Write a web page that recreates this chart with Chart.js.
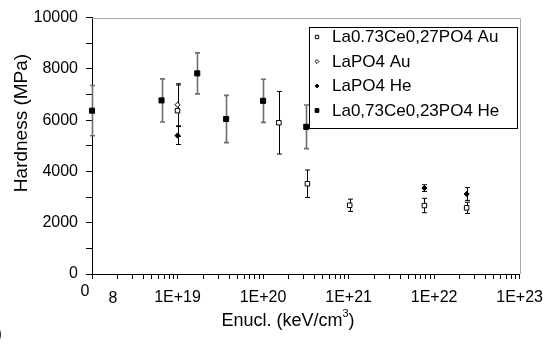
<!DOCTYPE html>
<html><head><meta charset="utf-8">
<script src="https://cdn.jsdelivr.net/npm/chart.js@4.4.1/dist/chart.umd.min.js"></script>
<style>html,body{margin:0;padding:0;background:#fff;} canvas{display:block;}</style>
</head><body>
<canvas id="c" width="552" height="345"></canvas>
<script>
// ---- data ----
const seriesLabels = ['La0.73Ce0,27PO4 Au', 'LaPO4 Au', 'LaPO4 He', 'La0,73Ce0,23PO4 He'];

const laCeAuX   = [1e19, 1.53e20, 3.3e20, 1.03e21, 7.7e21, 2.4e22];
const laCeAuY   = [6370, 5900, 3520, 2680, 2670, 2580];
const laCeAuErr = [1000, 1220, 535, 240, 280, 220];

const laAuX   = [1e19];
const laAuY   = [6600];
const laAuErr = [820];

const laHeX   = [1e19, 7.7e21, 2.4e22];
const laHeY   = [5400, 3350, 3120];
const laHeErr = [350, 130, 250];

const laCeHeX   = [1e18, 6.5e18, 1.7e19, 3.7e19, 1e20, 3.2e20];
const laCeHeY   = [6370, 6770, 7825, 6045, 6755, 5740];
const laCeHeErr = [980, 840, 800, 920, 840, 850];

const xDecades    = [18, 19, 20, 21, 22, 23];
const xTickLabels = ['', '1E+19', '1E+20', '1E+21', '1E+22', '1E+23'];
const xStrayLabels = ['0', '8'];
const yTicks      = [0, 2000, 4000, 6000, 8000, 10000];
const yTitle      = 'Hardness (MPa)';
const xTitleParts = ['Enucl. (keV/cm', '3', ')'];
const cornerText  = ')';

const FONT = "'Liberation Sans', Arial, sans-serif";

function pts(xs, ys) { return xs.map((x, i) => ({x: x, y: ys[i]})); }

const datasets = [
  {label: seriesLabels[0], data: pts(laCeAuX, laCeAuY), err: laCeAuErr, pointStyle: 'rect', pointRadius: 3.2,
   backgroundColor: '#fff', borderColor: '#000', borderWidth: 1, errColor: '#000', errWidth: 1, clip: false},
  {label: seriesLabels[1], data: pts(laAuX, laAuY), err: laAuErr, pointStyle: 'rectRot', pointRadius: 2.6,
   backgroundColor: '#fff', borderColor: '#000', borderWidth: 1, errColor: '#000', errWidth: 1, clip: false},
  {label: seriesLabels[2], data: pts(laHeX, laHeY), err: laHeErr, pointStyle: 'rectRot', pointRadius: 2.6,
   backgroundColor: '#000', borderColor: '#000', borderWidth: 1, errColor: '#000', errWidth: 1, clip: false},
  {label: seriesLabels[3], data: pts(laCeHeX, laCeHeY), err: laCeHeErr, pointStyle: 'rect', pointRadius: 3.6,
   backgroundColor: '#000', borderColor: '#000', borderWidth: 1, errColor: '#6e6e6e', errWidth: 1.6, clip: false}
];

const errorBars = {
  id: 'errorBars',
  beforeDatasetsDraw(chart) {
    const ctx = chart.ctx, xs = chart.scales.x, ys = chart.scales.y;
    chart.data.datasets.forEach(ds => {
      ctx.save();
      ctx.strokeStyle = ds.errColor; ctx.lineWidth = ds.errWidth;
      ds.data.forEach((p, i) => {
        const e = ds.err[i];
        const px = Math.round(xs.getPixelForValue(p.x)) + 0.5;
        const y1 = ys.getPixelForValue(p.y + e), y2 = ys.getPixelForValue(p.y - e);
        ctx.beginPath();
        ctx.moveTo(px, y1); ctx.lineTo(px, y2);
        ctx.moveTo(px - 2.5, y1); ctx.lineTo(px + 2.5, y1);
        ctx.moveTo(px - 2.5, y2); ctx.lineTo(px + 2.5, y2);
        ctx.stroke();
      });
      ctx.restore();
    });
  }
};

const decor = {
  id: 'decor',
  afterDraw(chart) {
    const ctx = chart.ctx, a = chart.chartArea, xs = chart.scales.x;
    ctx.save();
    // top & right frame
    ctx.strokeStyle = '#a8a8a8'; ctx.lineWidth = 1;
    ctx.beginPath();
    ctx.moveTo(a.left, Math.round(a.top) + 0.5); ctx.lineTo(Math.round(a.right) + 0.5, Math.round(a.top) + 0.5);
    ctx.lineTo(Math.round(a.right) + 0.5, a.bottom);
    ctx.stroke();
    ctx.fillStyle = '#000';
    // y title
    ctx.save();
    ctx.translate(22, 123);
    ctx.rotate(-Math.PI / 2);
    ctx.font = '19px ' + FONT; ctx.textAlign = 'center'; ctx.textBaseline = 'middle';
    ctx.fillText(yTitle, 0, 0);
    ctx.restore();
    // x title
    ctx.font = '18px ' + FONT; ctx.textBaseline = 'middle'; ctx.textAlign = 'left';
    const w0 = ctx.measureText(xTitleParts[0]).width;
    ctx.font = '11px ' + FONT; const w1 = ctx.measureText(xTitleParts[1]).width;
    ctx.font = '18px ' + FONT; const w2 = ctx.measureText(xTitleParts[2]).width;
    let tx = 288 - (w0 + w1 + w2) / 2;
    ctx.fillText(xTitleParts[0], tx, 321); tx += w0;
    ctx.font = '11px ' + FONT; ctx.fillText(xTitleParts[1], tx, 314); tx += w1;
    ctx.font = '18px ' + FONT; ctx.fillText(xTitleParts[2], tx, 321);
    // stray tick label remnants
    const x0 = xs.getPixelForValue(Math.pow(10, xDecades[0]));
    ctx.font = '16px ' + FONT; ctx.textAlign = 'center';
    ctx.fillText(xStrayLabels[0], x0 - 7, 292);
    ctx.fillText(xStrayLabels[1], x0 + 21, 299);
    // corner clipped glyph
    ctx.font = '18px ' + FONT; ctx.textAlign = 'right';
    ctx.fillText(cornerText, 2, 334);
    // legend
    const L = 309, T = 27, R = 517, B = 128;
    ctx.fillStyle = '#fff'; ctx.fillRect(L, T, R - L, B - T);
    ctx.strokeStyle = '#000'; ctx.lineWidth = 1;
    ctx.strokeRect(L + 0.5, T + 0.5, R - L, B - T);
    const rows = [37, 61.5, 86, 110.5];
    chart.data.datasets.forEach((ds, i) => {
      const y = rows[i];
      ctx.fillStyle = ds.backgroundColor; ctx.strokeStyle = '#000'; ctx.lineWidth = 1;
      ctx.beginPath();
      const r = ds.pointRadius * 0.75;
      if (ds.pointStyle === 'rect') {
        ctx.rect(317 - r * 0.7, y - r * 0.7, r * 1.4, r * 1.4);
      } else {
        ctx.moveTo(317, y - r); ctx.lineTo(317 + r, y); ctx.lineTo(317, y + r); ctx.lineTo(317 - r, y); ctx.closePath();
      }
      ctx.fill(); ctx.stroke();
      ctx.fillStyle = '#000';
      ctx.font = '17px ' + FONT; ctx.textAlign = 'left'; ctx.textBaseline = 'middle';
      ctx.fillText(ds.label, 332, y + 0.5);
    });
    ctx.restore();
  }
};

new Chart(document.getElementById('c'), {
  type: 'scatter',
  data: {datasets: datasets},
  options: {
    responsive: false, animation: false, devicePixelRatio: 1,
    layout: {padding: {left: 0, right: 31, top: 15, bottom: 0}},
    plugins: {legend: {display: false}, tooltip: {enabled: false}},
    scales: {
      x: {
        type: 'logarithmic', position: 'bottom', min: Math.pow(10, xDecades[0]), max: Math.pow(10, xDecades[xDecades.length - 1]),
        afterBuildTicks: s => {
          const t = [];
          xDecades.forEach((d, i) => {
            t.push({value: Math.pow(10, d)});
            if (i < xDecades.length - 1) for (let k = 2; k <= 9; k++) t.push({value: k * Math.pow(10, d)});
          });
          s.ticks = t;
        },
        ticks: {
          autoSkip: false, maxRotation: 0, minRotation: 0, color: '#000', padding: 9,
          font: {family: FONT, size: 16},
          callback: v => {
            const d = xDecades.findIndex(e => Math.abs(Math.log10(v) - e) < 1e-6);
            return d >= 0 ? xTickLabels[d] : '';
          }
        },
        grid: {display: true, drawOnChartArea: false, drawTicks: true, tickLength: 5, color: '#000'},
        border: {display: true, color: '#000', width: 1},
        afterFit: s => { s.height = 71; }
      },
      y: {
        type: 'linear', min: 0, max: 10000,
        ticks: {
          stepSize: 500, color: '#000', padding: 8, font: {family: FONT, size: 16},
          callback: v => yTicks.includes(v) ? String(v) : ''
        },
        grid: {display: true, drawOnChartArea: false, drawTicks: true, tickLength: 6, color: '#000'},
        border: {display: true, color: '#000', width: 1},
        afterFit: s => { s.width = 92; }
      }
    }
  },
  plugins: [errorBars, decor]
});
</script>
</body></html>
